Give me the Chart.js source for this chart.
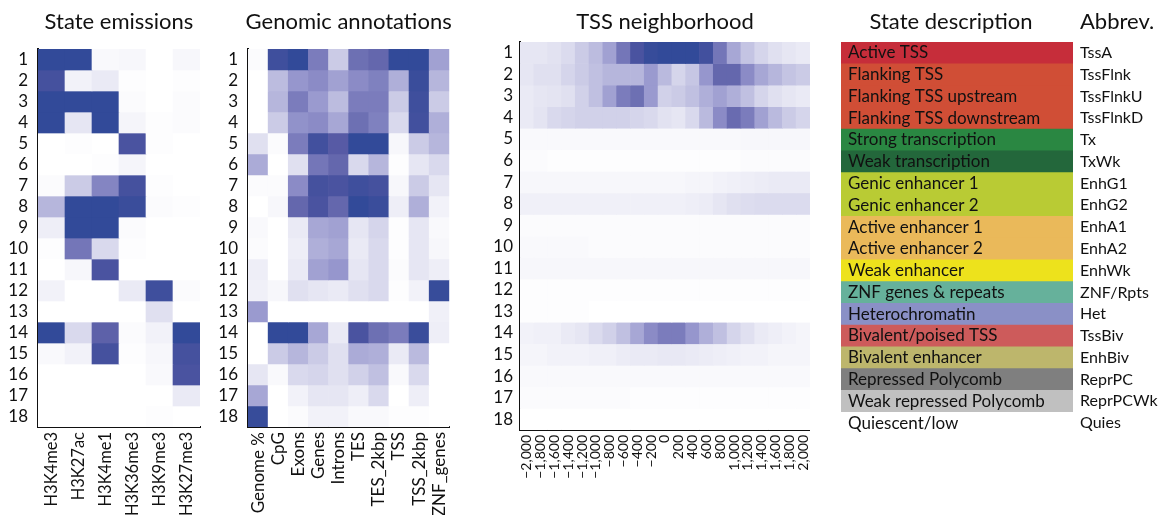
<!DOCTYPE html>
<html>
<head>
<meta charset="utf-8">
<script src="https://cdn.jsdelivr.net/npm/chart.js@4.4.1/dist/chart.umd.min.js"></script>
<style>
  body { margin: 0; background: #fff; }
  #page { position: relative; width: 1164px; height: 515px; overflow: hidden; }
  #page canvas { position: absolute; top: 0; }
</style>
</head>
<body>
<div id="page">
  <canvas id="emissionsChart" width="215" height="515" style="left:0"></canvas>
  <canvas id="annotationChart" width="250" height="515" style="left:215px"></canvas>
  <canvas id="tssChart" width="355" height="515" style="left:470px"></canvas>
  <canvas id="stateTable" width="334" height="515" style="left:830px"></canvas>
</div>
<script>
  // Chromatin states 1..18
  const stateIds = ['1', '2', '3', '4', '5', '6', '7', '8', '9', '10', '11', '12', '13', '14', '15', '16', '17', '18'];

  // Histone mark emission probabilities, one row per state
  const marks = ['H3K4me3', 'H3K27ac', 'H3K4me1', 'H3K36me3', 'H3K9me3', 'H3K27me3'];
  const emissions = [
    [1.00, 1.00, 0.03, 0.04, 0.00, 0.04],
    [0.88, 0.06, 0.10, 0.01, 0.00, 0.01],
    [1.00, 1.00, 1.00, 0.02, 0.00, 0.02],
    [1.00, 0.12, 1.00, 0.05, 0.01, 0.02],
    [0.00, 0.01, 0.00, 0.85, 0.01, 0.00],
    [0.00, 0.00, 0.01, 0.05, 0.00, 0.00],
    [0.02, 0.25, 0.58, 0.88, 0.01, 0.00],
    [0.35, 1.00, 1.00, 0.95, 0.02, 0.01],
    [0.08, 1.00, 1.00, 0.02, 0.00, 0.00],
    [0.01, 0.65, 0.18, 0.01, 0.00, 0.00],
    [0.00, 0.04, 0.85, 0.00, 0.00, 0.00],
    [0.06, 0.00, 0.00, 0.10, 0.92, 0.02],
    [0.00, 0.00, 0.00, 0.00, 0.15, 0.00],
    [1.00, 0.18, 0.75, 0.02, 0.06, 1.00],
    [0.03, 0.06, 0.88, 0.01, 0.04, 0.88],
    [0.00, 0.00, 0.00, 0.00, 0.03, 0.85],
    [0.00, 0.00, 0.00, 0.00, 0.00, 0.10],
    [0.00, 0.00, 0.00, 0.00, 0.01, 0.00]
  ];

  // Fold enrichment in genomic annotations (scaled per column)
  const annotationLabels = ['Genome %', 'CpG', 'Exons', 'Genes', 'Introns', 'TES', 'TES_2kbp', 'TSS', 'TSS_2kbp', 'ZNF_genes'];
  const annotations = [
    [0.02, 0.92, 1.00, 0.62, 0.25, 0.68, 0.72, 1.00, 1.00, 0.45],
    [0.00, 0.32, 0.50, 0.55, 0.45, 0.55, 0.60, 0.38, 0.95, 0.35],
    [0.00, 0.35, 0.62, 0.48, 0.32, 0.62, 0.62, 0.25, 0.92, 0.25],
    [0.00, 0.25, 0.52, 0.55, 0.42, 0.68, 0.60, 0.18, 0.90, 0.38],
    [0.15, 0.02, 0.62, 0.90, 0.78, 1.00, 1.00, 0.04, 0.25, 0.35],
    [0.40, 0.00, 0.15, 0.65, 0.72, 0.18, 0.35, 0.01, 0.12, 0.18],
    [0.02, 0.02, 0.55, 0.88, 0.85, 0.92, 0.88, 0.04, 0.25, 0.12],
    [0.00, 0.04, 0.72, 0.85, 0.72, 1.00, 0.95, 0.08, 0.38, 0.06],
    [0.03, 0.00, 0.10, 0.42, 0.45, 0.12, 0.20, 0.01, 0.12, 0.03],
    [0.02, 0.00, 0.08, 0.38, 0.42, 0.10, 0.18, 0.01, 0.12, 0.04],
    [0.08, 0.00, 0.10, 0.45, 0.50, 0.12, 0.18, 0.02, 0.12, 0.08],
    [0.07, 0.04, 0.15, 0.12, 0.10, 0.15, 0.18, 0.01, 0.06, 0.97],
    [0.48, 0.00, 0.00, 0.00, 0.00, 0.00, 0.00, 0.00, 0.00, 0.07],
    [0.00, 1.00, 1.00, 0.42, 0.10, 0.85, 0.68, 0.62, 0.95, 0.08],
    [0.00, 0.25, 0.35, 0.25, 0.15, 0.40, 0.38, 0.10, 0.33, 0.00],
    [0.12, 0.03, 0.18, 0.20, 0.15, 0.22, 0.30, 0.03, 0.18, 0.00],
    [0.42, 0.00, 0.06, 0.12, 0.12, 0.08, 0.18, 0.00, 0.08, 0.00],
    [0.97, 0.00, 0.02, 0.06, 0.06, 0.03, 0.03, 0.01, 0.01, 0.00]
  ];

  // Enrichment around the TSS, bp offsets
  const tssOffsets = ['\u22122,000', '\u22121,800', '\u22121,600', '\u22121,400', '\u22121,200', '\u22121,000',
    '\u2212800', '\u2212600', '\u2212400', '\u2212200', '0', '200', '400', '600', '800',
    '1,000', '1,200', '1,400', '1,600', '1,800', '2,000'];
  const tssProfile = [
    [0.12, 0.12, 0.14, 0.17, 0.25, 0.32, 0.45, 0.65, 0.85, 0.97, 1.00, 1.00, 1.00, 0.90, 0.65, 0.42, 0.28, 0.20, 0.15, 0.12, 0.10],
    [0.12, 0.15, 0.15, 0.20, 0.25, 0.30, 0.35, 0.35, 0.35, 0.48, 0.33, 0.20, 0.27, 0.50, 0.72, 0.72, 0.55, 0.42, 0.35, 0.28, 0.25],
    [0.10, 0.12, 0.13, 0.15, 0.22, 0.30, 0.45, 0.62, 0.68, 0.48, 0.22, 0.25, 0.30, 0.38, 0.45, 0.38, 0.30, 0.20, 0.15, 0.12, 0.10],
    [0.10, 0.13, 0.18, 0.20, 0.22, 0.22, 0.22, 0.22, 0.20, 0.18, 0.14, 0.12, 0.18, 0.33, 0.55, 0.70, 0.62, 0.45, 0.33, 0.25, 0.20],
    [0.03, 0.03, 0.03, 0.03, 0.03, 0.03, 0.03, 0.03, 0.03, 0.03, 0.03, 0.03, 0.03, 0.03, 0.03, 0.03, 0.04, 0.04, 0.04, 0.04, 0.04],
    [0.02, 0.02, 0.01, 0.01, 0.01, 0.01, 0.01, 0.01, 0.01, 0.01, 0.01, 0.01, 0.01, 0.01, 0.01, 0.01, 0.02, 0.02, 0.02, 0.02, 0.02],
    [0.04, 0.04, 0.04, 0.04, 0.04, 0.04, 0.04, 0.04, 0.04, 0.04, 0.04, 0.04, 0.05, 0.05, 0.06, 0.07, 0.08, 0.09, 0.10, 0.10, 0.10],
    [0.07, 0.07, 0.07, 0.07, 0.07, 0.07, 0.07, 0.07, 0.07, 0.07, 0.07, 0.07, 0.08, 0.09, 0.12, 0.15, 0.16, 0.17, 0.17, 0.17, 0.17],
    [0.02, 0.02, 0.02, 0.02, 0.02, 0.02, 0.02, 0.02, 0.02, 0.02, 0.02, 0.02, 0.02, 0.02, 0.02, 0.02, 0.02, 0.02, 0.02, 0.02, 0.02],
    [0.03, 0.03, 0.03, 0.03, 0.03, 0.02, 0.02, 0.02, 0.02, 0.02, 0.02, 0.02, 0.02, 0.02, 0.02, 0.02, 0.02, 0.02, 0.02, 0.02, 0.02],
    [0.04, 0.04, 0.04, 0.04, 0.04, 0.04, 0.04, 0.04, 0.04, 0.04, 0.04, 0.04, 0.04, 0.04, 0.04, 0.04, 0.04, 0.04, 0.04, 0.04, 0.04],
    [0.01, 0.01, 0.01, 0.01, 0.01, 0.01, 0.01, 0.01, 0.01, 0.01, 0.01, 0.01, 0.01, 0.01, 0.01, 0.01, 0.01, 0.01, 0.01, 0.01, 0.01],
    [0.01, 0.01, 0.01, 0.01, 0.01, 0.00, 0.00, 0.00, 0.00, 0.00, 0.00, 0.00, 0.00, 0.00, 0.00, 0.00, 0.00, 0.00, 0.00, 0.00, 0.00],
    [0.06, 0.07, 0.07, 0.10, 0.12, 0.17, 0.22, 0.30, 0.42, 0.55, 0.62, 0.62, 0.50, 0.38, 0.30, 0.20, 0.15, 0.10, 0.08, 0.06, 0.05],
    [0.05, 0.05, 0.06, 0.06, 0.06, 0.07, 0.07, 0.09, 0.10, 0.10, 0.11, 0.11, 0.10, 0.09, 0.08, 0.07, 0.06, 0.06, 0.05, 0.05, 0.05],
    [0.03, 0.03, 0.03, 0.03, 0.03, 0.03, 0.03, 0.03, 0.03, 0.03, 0.03, 0.03, 0.03, 0.03, 0.03, 0.03, 0.03, 0.03, 0.03, 0.03, 0.03],
    [0.02, 0.02, 0.02, 0.02, 0.02, 0.02, 0.02, 0.02, 0.01, 0.01, 0.01, 0.01, 0.01, 0.01, 0.01, 0.01, 0.01, 0.01, 0.01, 0.01, 0.01],
    [0.00, 0.00, 0.00, 0.00, 0.00, 0.00, 0.00, 0.00, 0.00, 0.00, 0.00, 0.00, 0.00, 0.00, 0.00, 0.00, 0.00, 0.00, 0.00, 0.00, 0.00]
  ];

  // State key
  const stateNames = ['Active TSS', 'Flanking TSS', 'Flanking TSS upstream', 'Flanking TSS downstream',
    'Strong transcription', 'Weak transcription', 'Genic enhancer 1', 'Genic enhancer 2',
    'Active enhancer 1', 'Active enhancer 2', 'Weak enhancer', 'ZNF genes & repeats',
    'Heterochromatin', 'Bivalent/poised TSS', 'Bivalent enhancer', 'Repressed Polycomb',
    'Weak repressed Polycomb', 'Quiescent/low'];
  const stateAbbrevs = ['TssA', 'TssFlnk', 'TssFlnkU', 'TssFlnkD', 'Tx', 'TxWk', 'EnhG1', 'EnhG2',
    'EnhA1', 'EnhA2', 'EnhWk', 'ZNF/Rpts', 'Het', 'TssBiv', 'EnhBiv', 'ReprPC', 'ReprPCWk', 'Quies'];
  const stateColors = ['#c62d3a', '#d04e36', '#d04e36', '#d04e36', '#2a8742', '#23673b', '#b9cb34', '#b9cb34',
    '#eab95a', '#eab95a', '#ede21c', '#66b19b', '#8a90c6', '#cd5b5b', '#bdb66c', '#7f7f7f', '#c0c0c0', '#ffffff'];

  const FONT = 'Lato, "Open Sans", sans-serif';
  const INK = '#111';
  Chart.defaults.font.family = FONT;
  Chart.defaults.color = INK;

  // white -> lavender -> deep blue
  const ramp = [
    [0.0, [255, 255, 255]],
    [0.5, [150, 150, 205]],
    [0.8, [82, 86, 162]],
    [1.0, [50, 74, 153]]
  ];
  function shade(v) {
    for (let i = 1; i < ramp.length; i++) {
      const [t1, c1] = ramp[i];
      const [t0, c0] = ramp[i - 1];
      if (v <= t1) {
        const f = (v - t0) / (t1 - t0);
        const c = c0.map((ch, k) => Math.round(ch + (c1[k] - ch) * f));
        return `rgb(${c[0]},${c[1]},${c[2]})`;
      }
    }
    return 'rgb(50,74,153)';
  }

  // Titles drawn above each panel
  const panelTitles = {
    id: 'panelTitles',
    afterDraw(chart, args, opts) {
      const { ctx, chartArea } = chart;
      ctx.save();
      ctx.font = `22px ${FONT}`;
      ctx.fillStyle = INK;
      ctx.textBaseline = 'middle';
      (opts.items || []).forEach(item => {
        ctx.textAlign = item.align || 'center';
        const x = item.x !== undefined ? item.x : (chartArea.left + chartArea.right) / 2;
        ctx.fillText(item.text, x, item.y || 22);
      });
      ctx.restore();
    }
  };

  function heatmapDatasets(matrix) {
    return matrix.map((row, i) => ({
      data: row.map(() => [i + 0.5, i + 1.5]),
      backgroundColor: row.map(shade),
      borderWidth: 0,
      grouped: false,
      barPercentage: 1,
      categoryPercentage: 1
    }));
  }

  function heatmap(canvasId, cfg) {
    const ctx = document.getElementById(canvasId).getContext('2d');
    return new Chart(ctx, {
      type: 'bar',
      data: {
        labels: cfg.columns,
        datasets: heatmapDatasets(cfg.matrix)
      },
      options: {
        responsive: false,
        animation: false,
        events: [],
        layout: { padding: { top: cfg.top, right: cfg.right, left: 0, bottom: 0 } },
        plugins: {
          legend: { display: false },
          tooltip: { enabled: false },
          panelTitles: { items: [{ text: cfg.title }] }
        },
        scales: {
          x: {
            type: 'category',
            grid: { display: false, drawTicks: false },
            border: { display: true, color: '#111', width: 2 },
            ticks: {
              autoSkip: false,
              minRotation: 90,
              maxRotation: 90,
              padding: 5,
              font: { size: cfg.xFont }
            },
            afterFit: scale => { scale.height = 515 - cfg.bottom; }
          },
          y: {
            type: 'linear',
            reverse: true,
            min: 0.5,
            max: 18.5,
            grid: { display: false, drawTicks: false },
            border: { display: true, color: '#111', width: 2 },
            afterBuildTicks: scale => {
              scale.ticks = stateIds.map((s, i) => ({ value: i + 1 }));
            },
            ticks: {
              autoSkip: false,
              padding: cfg.yPad,
              font: { size: 17 },
              callback: (value, index) => stateIds[index]
            },
            afterFit: scale => { scale.width = cfg.left; }
          }
        }
      },
      plugins: [panelTitles]
    });
  }

  heatmap('emissionsChart', {
    title: 'State emissions', columns: marks, matrix: emissions,
    left: 38, right: 15, top: 49, bottom: 427, yPad: 10, xFont: 16.5
  });

  heatmap('annotationChart', {
    title: 'Genomic annotations', columns: annotationLabels, matrix: annotations,
    left: 33, right: 7, top: 49, bottom: 427, yPad: 10, xFont: 17
  });

  heatmap('tssChart', {
    title: 'TSS neighborhood', columns: tssOffsets, matrix: tssProfile,
    left: 50, right: 7, top: 42, bottom: 430, yPad: 7, xFont: 14
  });

  // State description key: one full-width band per state
  new Chart(document.getElementById('stateTable').getContext('2d'), {
    type: 'bar',
    data: {
      labels: stateNames,
      datasets: [{
        data: stateNames.map(() => 1),
        backgroundColor: stateColors,
        borderWidth: 0,
        barPercentage: 1,
        categoryPercentage: 1
      }]
    },
    options: {
      indexAxis: 'y',
      responsive: false,
      animation: false,
      events: [],
      layout: { padding: { top: 42, left: 11, right: 0, bottom: 81 } },
      plugins: {
        legend: { display: false },
        tooltip: { enabled: false },
        panelTitles: {
          items: [
            { text: 'State description', x: 121 },
            { text: 'Abbrev.', x: 250, align: 'left' }
          ]
        }
      },
      scales: {
        x: { type: 'linear', min: 0, max: 1, display: false },
        y: {
          type: 'category',
          position: 'left',
          grid: { display: false, drawTicks: false },
          border: { display: false },
          // labels sit inside the colour bands, drawn after the bars
          ticks: { mirror: true, z: 1, padding: 7, autoSkip: false, font: { size: 17 } },
          afterFit: scale => { scale.width = 0; }
        },
        abbr: {
          type: 'category',
          position: 'right',
          labels: stateAbbrevs,
          offset: true,
          grid: { display: false, drawTicks: false },
          border: { display: false },
          ticks: { padding: 7, autoSkip: false, font: { size: 16 } },
          afterFit: scale => { scale.width = 91; }
        }
      }
    },
    plugins: [panelTitles]
  });
</script>
</body>
</html>
